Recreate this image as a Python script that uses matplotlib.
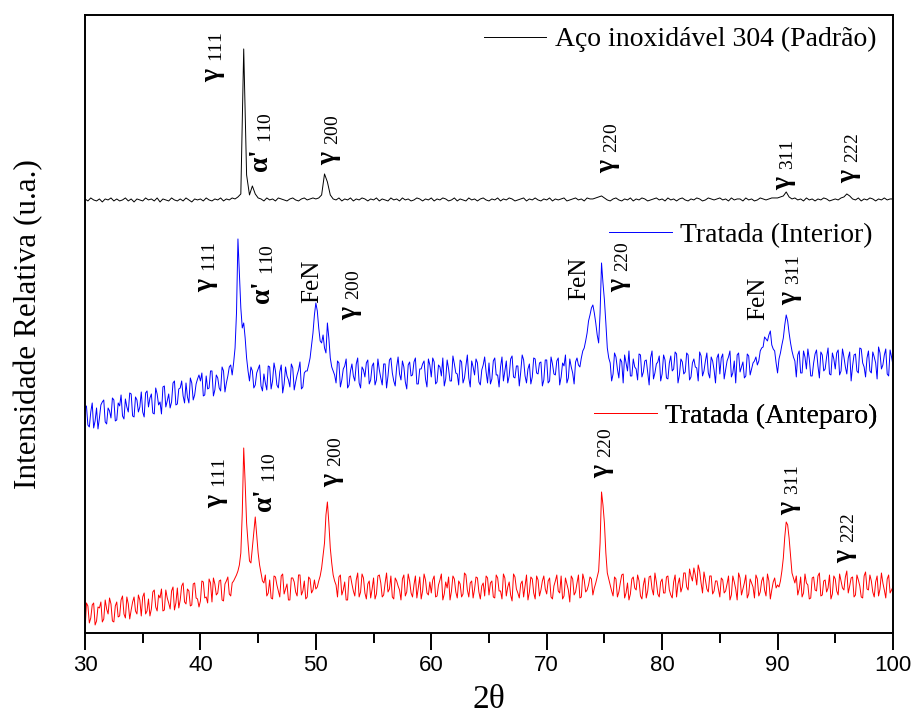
import numpy as np
import matplotlib
matplotlib.use('Agg')
import matplotlib.pyplot as plt

plt.rcParams['font.family'] = ['Liberation Serif', 'DejaVu Serif']
plt.rcParams['mathtext.fontset'] = 'custom'
plt.rcParams['mathtext.rm'] = 'Liberation Serif'
plt.rcParams['mathtext.it'] = 'Liberation Serif:italic'
plt.rcParams['mathtext.default'] = 'regular'

# 2theta scan: 0.25 deg grid for the standard, 0.125 deg for the treated samples
two_theta = np.linspace(30, 100, 281)
two_theta_fine = np.linspace(30, 100, 561)

# relative intensity (u.a.), one row per 5 deg
aco_304 = [
    1, -1, 2, 0, -1, 1, -2, 1, 0, 2, -1, 1, -1, 0, 2, -1, 1, -2, 1, 0,
    -1, 2, 0, 1, -1, 2, -2, 1, 0, -1, 2, 0, -1, 1, -1, 2, 0, -2, 1, 0,
    1, -1, 2, 0, -1, 1, 0, 2, -1, 1, 0, 2, 1, 3, 6, 151, 25, 5, 14, 6,
    2, 1, -1, 2, 0, 1, -1, 2, 1, 0, -1, 1, 2, 0, -1, 1, 2, 0, 1, 2,
    1, 2, 5, 26, 18, 5, 1, 0, 2, -1, 1, 0, 2, -1, 1, 0, 2, 1, -1, 1,
    0, 2, -1, 1, 0, -1, 2, 0, 1, -1, 2, 0, 1, -1, 0, 2, 1, -1, 1, 0,
    2, -1, 1, 0, 2, 1, -1, 0, 2, -1, 1, 0, -1, 2, 0, 1, -1, 1, 2, 0,
    -1, 1, 0, 2, -1, 1, 0, 2, 1, -1, 0, 1, 2, -1, 1, 0, 2, 0, -1, 1,
    0, 2, -1, 1, 0, 1, 2, -1, 0, 1, 2, 0, 1, -1, 2, 1, 1, 2, 3, 4,
    2, 0, -1, 1, 2, 0, -1, 1, 0, 2, -1, 1, 0, 2, 1, -1, 0, 1, 2, 0,
    1, -1, 2, 0, 1, -1, 1, 2, 0, -1, 1, 0, 2, 1, -1, 0, 2, 1, 0, 1,
    2, 0, 1, -1, 2, 0, 1, 1, -1, 2, 0, 1, -1, 0, 2, 1, 0, 1, 2, 2,
    2, 3, 4, 8, 3, 1, 2, 0, 1, -1, 2, 0, 1, -1, 1, 0, 2, 1, -1, 0,
    1, 0, 2, 3, 6, 4, 1, 0, 2, -1, 1, 0, 2, 1, -1, 1, 0, 2, 0, 1,
    1,
]

# Tratada (Interior): values at 30, 30.25, ... and at the midpoints 30.125, 30.375, ...
interior_grid = [
    25, 8, 21, 5, 25, 15, 31, 11, 25, 15, 33, 13, 27, 17, 34, 21, 39, 16, 33, 26,
    21, 40, 26, 39, 19, 39, 31, 46, 26, 39, 31, 52, 29, 45, 37, 50, 30, 50, 38, 54,
    52, 37, 57, 45, 62, 43, 55, 42, 62, 50, 66, 58, 85, 194, 125, 110, 75, 52, 62, 48,
    64, 47, 59, 43, 66, 52, 62, 45, 68, 49, 57, 46, 65, 51, 63, 44, 60, 62, 75, 100,
    130, 105, 90, 85, 110, 75, 62, 50, 70, 53, 67, 45, 62, 57, 69, 50, 66, 56, 73, 53,
    70, 53, 63, 48, 69, 57, 75, 52, 66, 59, 72, 51, 68, 57, 71, 49, 64, 69, 54, 74,
    56, 71, 51, 66, 75, 54, 64, 52, 69, 59, 73, 50, 67, 55, 72, 58, 70, 48, 68, 61,
    70, 54, 75, 58, 66, 52, 72, 57, 77, 55, 67, 61, 73, 50, 69, 56, 74, 59, 71, 53,
    73, 52, 69, 58, 75, 56, 67, 50, 74, 60, 71, 68, 75, 85, 100, 118, 128, 110, 90, 170,
    133, 85, 70, 59, 76, 55, 71, 78, 62, 57, 74, 64, 79, 56, 72, 60, 75, 54, 69, 77,
    59, 73, 54, 77, 64, 79, 58, 71, 61, 78, 56, 74, 65, 81, 57, 72, 60, 76, 63, 75,
    59, 79, 63, 76, 56, 72, 78, 61, 71, 57, 77, 64, 72, 68, 82, 86, 94, 98, 88, 82,
    60, 80, 95, 118, 100, 82, 72, 78, 60, 82, 64, 74, 57, 79, 67, 81, 62, 76, 59, 80,
    64, 83, 62, 76, 59, 81, 67, 79, 60, 84, 66, 75, 62, 81, 70, 86, 64, 78, 59, 83,
    68,
]
interior_mid = [
    27, 6, 30, 12, 4, 28, 33, 9, 22, 35, 12, 30, 38, 14, 26, 40, 17, 36, 21, 41,
    16, 42, 35, 20, 45, 28, 19, 47, 32, 25, 50, 28, 44, 52, 30, 36, 55, 33, 49, 58,
    60, 38, 44, 62, 37, 58, 45, 66, 41, 57, 68, 70, 120, 160, 105, 95, 62, 66, 45, 60,
    68, 42, 50, 67, 44, 70, 48, 61, 40, 66, 53, 69, 43, 58, 71, 46, 62, 68, 88, 118,
    122, 92, 98, 80, 95, 66, 58, 72, 46, 64, 74, 48, 69, 52, 75, 45, 63, 70, 49, 67,
    48, 74, 55, 69, 45, 73, 60, 47, 76, 53, 66, 44, 71, 58, 75, 49, 64, 72, 46, 68,
    75, 49, 68, 57, 47, 73, 52, 77, 60, 48, 71, 55, 78, 46, 66, 74, 51, 63, 76, 50,
    49, 72, 58, 46, 76, 62, 50, 74, 56, 67, 47, 78, 57, 64, 49, 75, 60, 70, 47, 73,
    50, 76, 59, 72, 48, 70, 78, 55, 66, 49, 75, 66, 82, 92, 112, 125, 120, 98, 120, 150,
    110, 75, 52, 80, 64, 74, 50, 70, 82, 57, 66, 53, 78, 61, 73, 48, 82, 60, 71, 52,
    78, 55, 70, 62, 81, 50, 74, 59, 80, 53, 70, 66, 52, 77, 62, 80, 55, 72, 50, 79,
    75, 54, 72, 82, 60, 50, 80, 66, 55, 79, 58, 70, 76, 72, 85, 96, 92, 102, 84, 70,
    74, 88, 108, 112, 90, 76, 56, 82, 60, 76, 84, 57, 70, 83, 55, 78, 64, 85, 58, 74,
    80, 58, 84, 66, 75, 52, 78, 62, 85, 70, 56, 82, 60, 76, 54, 80, 68, 84, 57, 76,
]

# Tratada (Anteparo): same layout
anteparo_grid = [
    2, 27, 15, 30, 12, 25, 11, 33, 19, 29, 11, 31, 17, 37, 15, 29, 23, 36, 19, 33,
    36, 19, 34, 24, 43, 22, 35, 22, 43, 30, 42, 23, 45, 33, 50, 29, 42, 28, 50, 34,
    32, 51, 36, 54, 31, 49, 40, 53, 32, 52, 39, 50, 55, 62, 80, 185, 110, 72, 85, 116,
    80, 60, 50, 37, 53, 34, 56, 42, 57, 39, 49, 33, 55, 41, 58, 38, 52, 36, 54, 43,
    44, 52, 65, 90, 131, 85, 58, 48, 56, 38, 51, 33, 57, 42, 53, 36, 59, 40, 49, 35,
    55, 39, 58, 36, 50, 41, 57, 34, 52, 43, 54, 37, 59, 40, 48, 35, 56, 42, 53, 38,
    40, 57, 37, 53, 33, 51, 56, 42, 54, 35, 49, 39, 58, 36, 52, 44, 55, 34, 50, 57,
    38, 52, 35, 55, 42, 59, 37, 51, 32, 56, 40, 49, 36, 58, 41, 54, 34, 53, 43, 57,
    39, 55, 34, 52, 42, 57, 37, 49, 31, 54, 41, 58, 36, 53, 43, 56, 38, 50, 62, 141,
    110, 60, 48, 37, 54, 41, 58, 35, 50, 39, 56, 43, 52, 34, 55, 42, 57, 38, 51, 36,
    54, 40, 57, 38, 51, 36, 55, 46, 60, 43, 57, 65, 48, 62, 40, 53, 41, 57, 42, 52,
    36, 53, 42, 57, 38, 51, 33, 55, 44, 58, 39, 50, 35, 54, 41, 56, 37, 52, 43, 55,
    48, 52, 75, 111, 95, 60, 50, 38, 56, 40, 50, 34, 55, 43, 57, 37, 52, 41, 58, 39,
    54, 38, 52, 43, 62, 47, 56, 38, 53, 36, 57, 44, 58, 41, 51, 37, 60, 43, 54, 40,
    46,
]
anteparo_mid = [
    30, 10, 28, 8, 26, 31, 14, 24, 35, 12, 27, 16, 33, 19, 36, 14, 31, 22, 38, 17,
    40, 22, 17, 41, 26, 38, 44, 23, 35, 24, 46, 30, 25, 47, 31, 44, 27, 49, 35, 26,
    52, 35, 30, 50, 55, 38, 52, 33, 49, 56, 37, 52, 58, 68, 120, 150, 90, 70, 100, 98,
    68, 52, 58, 40, 35, 57, 48, 36, 59, 44, 33, 55, 51, 37, 58, 42, 34, 56, 40, 53,
    46, 57, 78, 118, 110, 70, 52, 36, 58, 43, 33, 56, 49, 37, 60, 41, 55, 34, 52, 44,
    34, 57, 50, 38, 60, 44, 36, 55, 47, 33, 58, 41, 52, 36, 57, 45, 34, 59, 40, 51,
    53, 36, 48, 59, 39, 45, 33, 57, 41, 52, 36, 60, 43, 50, 35, 56, 41, 47, 37, 55,
    50, 36, 58, 42, 34, 55, 46, 38, 59, 44, 35, 52, 47, 33, 56, 40, 57, 37, 52, 44,
    52, 36, 47, 58, 40, 34, 55, 43, 57, 38, 50, 35, 59, 41, 48, 54, 45, 56, 90, 128,
    80, 54, 42, 56, 36, 50, 59, 40, 33, 54, 45, 58, 37, 48, 35, 56, 44, 60, 39, 51,
    40, 56, 43, 35, 58, 49, 41, 60, 46, 64, 52, 58, 68, 50, 61, 44, 57, 39, 52, 44,
    55, 40, 49, 33, 57, 44, 60, 38, 50, 35, 54, 46, 58, 37, 52, 43, 59, 34, 51, 45,
    46, 62, 96, 108, 78, 55, 57, 44, 36, 59, 48, 35, 56, 42, 60, 38, 53, 45, 34, 57,
    42, 59, 45, 56, 40, 55, 36, 58, 47, 35, 61, 43, 52, 36, 57, 44, 50, 35, 58, 43,
]


def merge_scan(grid_vals, mid_vals):
    out = np.empty(len(grid_vals) + len(mid_vals))
    out[0::2] = grid_vals
    out[1::2] = mid_vals
    return out


interior = merge_scan(interior_grid, interior_mid)
anteparo = merge_scan(anteparo_grid, anteparo_mid)

series_names = ['Aço inoxidável 304 (Padrão)', 'Tratada (Interior)', 'Tratada (Anteparo)']
series_x = [two_theta, two_theta_fine, two_theta_fine]
series_data = [aco_304, interior, anteparo]
series_colors = ['#000000', '#0000ff', '#ff0000']
series_offsets = [433, 200, 0]   # vertical stacking

G = 'γ $_{\\mathrm{%s}}$'
A = "α' $_{\\mathrm{%s}}$"
# peak labels: text, 2theta, height (stacked units)
labels_aco = [(G % '111', 41.2, 551), (A % '110', 45.3, 460), (G % '200', 51.3, 468),
              (G % '220', 75.4, 460), (G % '311', 90.65, 443), (G % '222', 96.3, 450)]
labels_int = [(G % '111', 40.6, 341), (A % '110', 45.4, 328), ('FeN', 49.7, 330),
              (G % '200', 53.1, 313), ('FeN', 72.8, 333), (G % '220', 76.4, 341),
              ('FeN', 88.3, 313), (G % '311', 91.2, 328)]
labels_ant = [(G % '111', 41.5, 125), (A % '110', 45.6, 120), (G % '200', 51.5, 146),
              (G % '220', 74.9, 155), (G % '311', 91.1, 118), (G % '222', 96.0, 70)]

# legend anchors (axes fraction)
legend_anchor = [(0.979, 0.96), (0.975, 0.644), (0.981, 0.351)]

fig = plt.figure(figsize=(9.14, 7.22), dpi=100)
ax = fig.add_axes([0.093, 0.1233, 0.884, 0.856])

lines = []
for x, y, c, off in zip(series_x, series_data, series_colors, series_offsets):
    ln, = ax.plot(x, np.asarray(y) + off, color=c, lw=0.7)
    lines.append(ln)

for lab in (labels_aco, labels_int, labels_ant):
    for txt, x, h in lab:
        if txt == 'FeN':
            ax.text(x, h, txt, rotation=90, ha='center', va='bottom', fontsize=18)
        else:
            ax.text(x, h, txt, rotation=90, ha='center', va='bottom', fontsize=20,
                    fontweight='bold')

for ln, name, anc in zip(lines, series_names, legend_anchor):
    leg = ax.legend([ln], [name], loc='center right', bbox_to_anchor=anc,
                    frameon=False, fontsize=20, handlelength=2.25,
                    handletextpad=0.3, borderpad=0, borderaxespad=0)
    ax.add_artist(leg)

ax.set_xlim(30, 100)
ax.set_ylim(0, 618)
ax.set_yticks([])
ax.set_xticks(np.arange(30, 101, 10))
ax.set_xticks(np.arange(35, 100, 10), minor=True)
ax.tick_params(axis='x', which='major', direction='out', length=12, width=1.4,
               pad=4, labelsize=16, labelfontfamily='Liberation Sans')
ax.tick_params(axis='x', which='minor', direction='out', length=7, width=1.4)
for s in ax.spines.values():
    s.set_linewidth(1.4)

ax.set_xlabel('2θ', fontsize=24, labelpad=6)
ax.set_ylabel('Intensidade Relativa (u.a.)', fontsize=22.5, labelpad=30)

fig.savefig('out.png', dpi=100)
